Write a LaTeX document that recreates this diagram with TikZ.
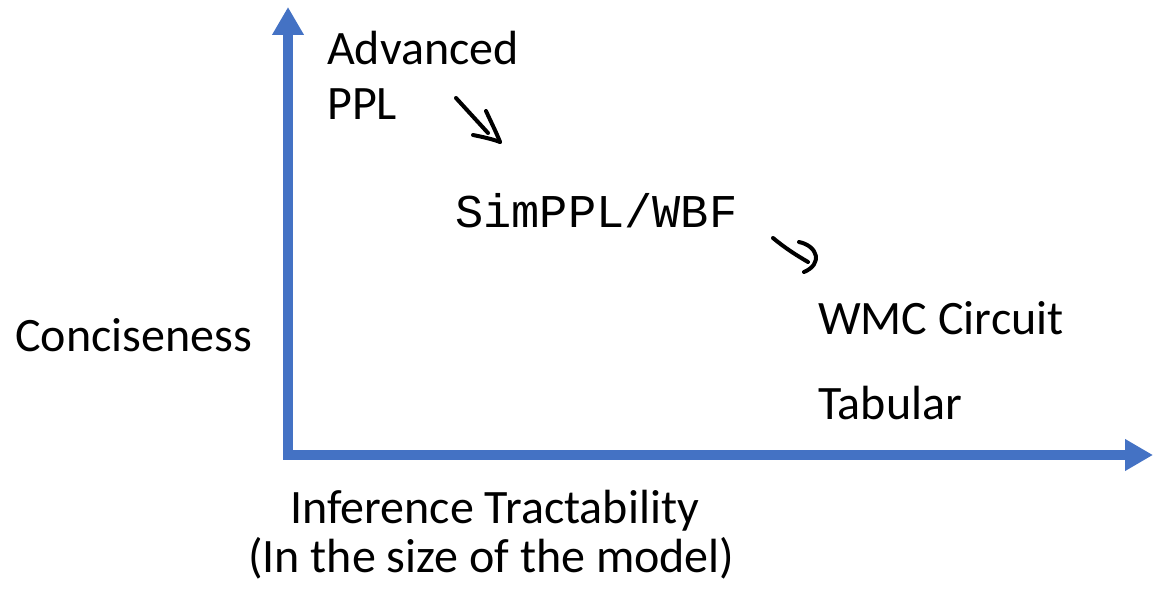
\documentclass[tikz,border=0pt]{standalone}
\usepackage{fontspec}
\setmainfont{Carlito}
\newfontfamily\monofont{Liberation Mono}
\usetikzlibrary{arrows.meta}
\definecolor{axisblue}{HTML}{4472C4}
\tikzset{
  lbl/.style={anchor=base west, inner sep=0pt, font=\fontsize{48}{58}\selectfont},
  monolbl/.style={anchor=base west, inner sep=0pt, font=\monofont\fontsize{47}{56}\selectfont},
  axis/.style={draw=axisblue, line width=10pt, -{Triangle[width=30pt,length=28pt]}},
  hand/.style={draw=black, line width=4pt, line cap=round, line join=round}
}
\begin{document}
\begin{tikzpicture}[x=1pt,y=-1pt]
\useasboundingbox (0,0) rectangle (1153,591);
\coordinate (origin) at (288,455);
\coordinate (ytip) at (288,7);
\coordinate (xtip) at (1153,455);
\draw[axis] ([yshift=5pt]origin) -- (ytip);
\draw[axis] ([xshift=-5pt]origin) -- (xtip);

\node[lbl] (adv) at (327,65) {Advanced};
\node[lbl] (ppl) at (327,120) {PPL};
\node[monolbl] (sim) at (455,227) {SimPPL/WBF};
\node[lbl] (conc) at (15,351) {Conciseness};
\node[lbl] (wmc) at (818,334) {WMC Circuit};
\node[lbl] (tab) at (818,419) {Tabular};
\node[lbl] (inf) at (290,523) {Inference Tractability};
\node[lbl] (size) at (248,572) {(In the size of the model)};

% hand-drawn arrow 1
\coordinate (a1s) at (456,98);
\coordinate (a1e) at (488,133);
\coordinate (a1t) at (500,142);
\draw[hand] (a1s) -- (a1e);
\draw[hand] (486,111) .. controls (492,124) and (497,134) .. (a1t);
\draw[hand] (473,135) .. controls (483,137) and (492,139) .. (a1t);
% hand-drawn arrow 2
\coordinate (a2s) at (773,238);
\coordinate (a2e) at (808,262);
\draw[hand] (a2s) .. controls (785,248) and (796,255) .. (a2e);
\draw[hand] (799,242) .. controls (818,246) and (823,264) .. (804,272);
\end{tikzpicture}
\end{document}
